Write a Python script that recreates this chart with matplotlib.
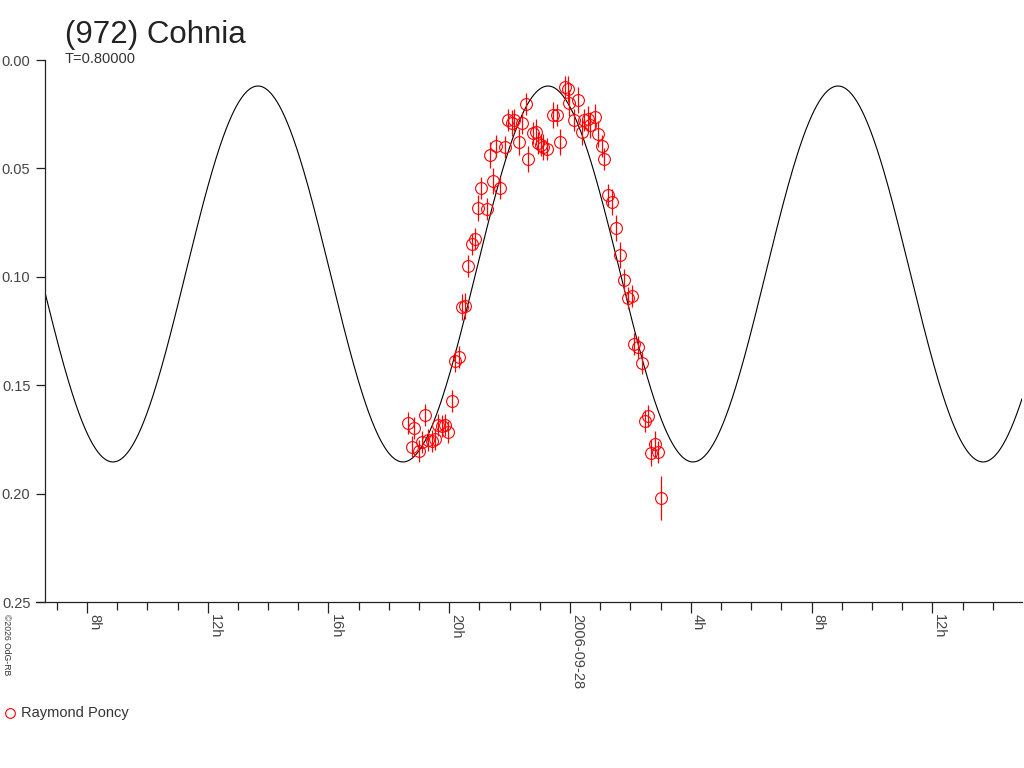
import matplotlib
matplotlib.use("Agg")
import matplotlib.pyplot as plt
import numpy as np
from matplotlib.lines import Line2D
from matplotlib.ticker import FixedLocator, MultipleLocator, FuncFormatter

plt.rcParams["font.family"] = ["Liberation Sans", "DejaVu Sans"]

# observation times (hours since 2006-09-27 0h UT) and relative magnitudes
obs_hours = [
    18.63, 18.77, 18.83, 19.00, 19.10, 19.20, 19.30, 19.43, 19.53, 19.63,
    19.76, 19.86, 19.96, 20.09, 20.19, 20.32, 20.42, 20.52, 20.62, 20.75,
    20.85, 20.95, 21.05, 21.25, 21.35, 21.45, 21.55, 21.68, 21.85, 21.95,
    22.08, 22.15, 22.31, 22.41, 22.54, 22.61, 22.77, 22.87, 22.94, 23.04,
    23.11, 23.24, 23.44, 23.57, 23.67, 23.83, 23.93, 23.97, 24.13, 24.27,
    24.40, 24.46, 24.60, 24.66, 24.83, 24.93, 25.06, 25.13, 25.26, 25.39,
    25.52, 25.66, 25.79, 25.92, 26.05, 26.12, 26.25, 26.39, 26.48, 26.58,
    26.68, 26.82, 26.92, 27.01,
]
obs_mag = [
    0.1674, 0.1785, 0.1697, 0.1803, 0.1762, 0.1637, 0.1753, 0.1757, 0.1748, 0.1684,
    0.1688, 0.1684, 0.1716, 0.1573, 0.1388, 0.1370, 0.1139, 0.1135, 0.0950, 0.0849,
    0.0826, 0.0683, 0.0590, 0.0687, 0.0438, 0.0558, 0.0397, 0.0590, 0.0401, 0.0277,
    0.0291, 0.0277, 0.0378, 0.0291, 0.0203, 0.0457, 0.0337, 0.0332, 0.0383, 0.0392,
    0.0401, 0.0411, 0.0254, 0.0254, 0.0378, 0.0125, 0.0134, 0.0198, 0.0277, 0.0185,
    0.0332, 0.0277, 0.0272, 0.0300, 0.0263, 0.0341, 0.0397, 0.0457, 0.0623, 0.0655,
    0.0775, 0.0899, 0.1015, 0.1098, 0.1089, 0.1310, 0.1324, 0.1398, 0.1665, 0.1642,
    0.1813, 0.1771, 0.1808, 0.2020,
]
obs_err = [
    0.005, 0.005, 0.005, 0.005, 0.005, 0.005, 0.005, 0.005, 0.005, 0.005,
    0.005, 0.005, 0.005, 0.005, 0.005, 0.005, 0.006, 0.006, 0.005, 0.005,
    0.005, 0.006, 0.005, 0.005, 0.006, 0.006, 0.005, 0.005, 0.005, 0.005,
    0.006, 0.005, 0.006, 0.005, 0.005, 0.006, 0.005, 0.006, 0.005, 0.005,
    0.006, 0.005, 0.006, 0.005, 0.006, 0.005, 0.006, 0.006, 0.005, 0.006,
    0.006, 0.005, 0.006, 0.006, 0.006, 0.006, 0.005, 0.005, 0.005, 0.006,
    0.006, 0.006, 0.005, 0.005, 0.005, 0.005, 0.005, 0.005, 0.005, 0.005,
    0.006, 0.006, 0.005, 0.010,
]

# fitted light-curve model
period_h = 9.606
t_max = 23.27
mag_mean = 0.0987
mag_amp = 0.0867

x_range = (6.61, 38.97)
major_hours = [8, 12, 16, 20, 24, 28, 32, 36]
major_labels = ["8h", "12h", "16h", "20h", "2006-09-28", "4h", "8h", "12h"]

fig = plt.figure(figsize=(10.24, 7.68), dpi=100)
ax = fig.add_axes([45 / 1024, 1 - 602 / 768, 977 / 1024, 542 / 768])

t = np.linspace(x_range[0], x_range[1], 2000)
model = mag_mean - mag_amp * np.cos(2 * np.pi * (t - t_max) / period_h)
ax.plot(t, model, color="black", lw=0.8)

ax.errorbar(obs_hours, obs_mag, yerr=obs_err, fmt="o", ms=8.5, mfc="none",
            mec="red", mew=0.8, ecolor="red", elinewidth=0.9, capsize=0)

ax.set_xlim(*x_range)
ax.set_ylim(0.25, 0.0)

for s in ["top", "right"]:
    ax.spines[s].set_visible(False)
for s in ["left", "bottom"]:
    ax.spines[s].set_linewidth(0.9)
    ax.spines[s].set_color("#222222")
ax.spines["bottom"].set_bounds(x_range[0] - 9 / 30.19, x_range[1])

ax.yaxis.set_major_locator(FixedLocator([0.0, 0.05, 0.10, 0.15, 0.20, 0.25]))
ax.yaxis.set_major_formatter(FuncFormatter(lambda v, p: f"{v:.2f}"))
ax.tick_params(axis="y", direction="out", length=6.5, width=0.9, pad=4,
               labelsize=10.5, labelcolor="#444444", color="#222222")

ax.xaxis.set_major_locator(FixedLocator(major_hours))
ax.xaxis.set_major_formatter(FuncFormatter(
    lambda v, p: major_labels[major_hours.index(int(round(v)))]
    if int(round(v)) in major_hours else ""))
ax.xaxis.set_minor_locator(MultipleLocator(1))
ax.tick_params(axis="x", which="major", direction="out", length=8, width=0.9,
               pad=1, labelsize=10.5, labelcolor="#444444", color="#222222",
               labelrotation=270)
ax.tick_params(axis="x", which="minor", direction="out", length=5.8, width=0.9,
               color="#222222")
for lbl in ax.get_xticklabels():
    lbl.set_verticalalignment("top")
    lbl.set_horizontalalignment("left")

fig.text(65 / 1024, 1 - 43 / 768, "(972) Cohnia", fontsize=22.5,
         color="#222222", ha="left", va="baseline")
fig.text(65 / 1024, 1 - 63 / 768, "T=0.80000", fontsize=10.5,
         color="#333333", ha="left", va="baseline")
fig.text(2 / 1024, 1 - 614 / 768, "\u00a92026 OdG-RB", fontsize=6.2,
         rotation=270, ha="left", va="top", color="#333333")

fig.add_artist(Line2D([10 / 1024], [1 - 713 / 768], marker="o", ms=7,
                      mfc="none", mec="red", mew=0.8, ls="none",
                      transform=fig.transFigure))
fig.text(21 / 1024, 1 - 713 / 768, "Raymond Poncy", fontsize=10.5,
         color="#333333", ha="left", va="center")

fig.savefig("out.png", dpi=100)
